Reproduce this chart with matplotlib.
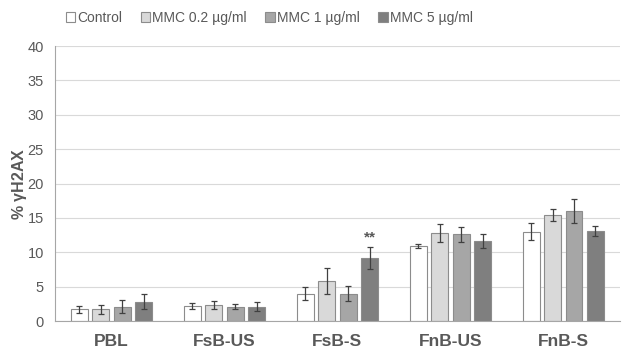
import numpy as np
from matplotlib import pyplot as plt

plt.rcParams['font.family'] = ['Liberation Sans', 'DejaVu Sans']

# data
groups = ["PBL", "FsB-US", "FsB-S", "FnB-US", "FnB-S"]
series = ["Control", "MMC 0.2 µg/ml", "MMC 1 µg/ml", "MMC 5 µg/ml"]
control = [1.7, 2.2, 4.0, 10.9, 13.0]
mmc02 = [1.7, 2.3, 5.8, 12.8, 15.4]
mmc1 = [2.1, 2.1, 4.0, 12.6, 16.0]
mmc5 = [2.8, 2.1, 9.2, 11.6, 13.1]
err_control = [0.5, 0.4, 0.9, 0.3, 1.2]
err_mmc02 = [0.6, 0.6, 1.9, 1.3, 0.9]
err_mmc1 = [0.9, 0.4, 1.1, 1.1, 1.7]
err_mmc5 = [1.1, 0.7, 1.6, 1.0, 0.7]

values = [control, mmc02, mmc1, mmc5]
errors = [err_control, err_mmc02, err_mmc1, err_mmc5]
colors = ["white", "#d9d9d9", "#a6a6a6", "#7f7f7f"]
txt = "#595959"

fig = plt.figure(figsize=(6.26, 3.49), dpi=100)
ax = fig.add_axes([0.088, 0.080, 0.902, 0.788])

x = np.arange(len(groups))
w = 0.15
step = 0.19
for i in range(4):
    xs = x + (i - 1.5) * step
    ax.bar(xs, values[i], w, color=colors[i], edgecolor="#8c8c8c", linewidth=0.8,
           label=series[i], zorder=2)
    ax.errorbar(xs, values[i], yerr=errors[i], fmt="none", ecolor="#404040",
                elinewidth=0.9, capsize=2.2, capthick=0.9, zorder=3)

# significance mark
ax.text(x[2] + 1.5 * step, mmc5[2] + err_mmc5[2] + 0.3, "**", ha="center",
        va="bottom", fontsize=11, fontweight="bold", color=txt)

ax.set_xlim(-0.5, len(groups) - 0.5)
ax.set_ylim(0, 40)
ax.set_yticks(range(0, 41, 5))
ax.yaxis.grid(True, color="#d9d9d9", linewidth=0.8, zorder=0)
ax.set_axisbelow(True)
ax.set_xticks(x)
ax.set_xticklabels(groups, fontsize=12.5, fontweight="bold", color=txt)
ax.tick_params(axis="x", length=0, pad=9)
ax.tick_params(axis="y", length=0, labelsize=10.5, labelcolor=txt, pad=8)
for s in ["top", "right"]:
    ax.spines[s].set_visible(False)
ax.spines["left"].set_color("#a6a6a6")
ax.spines["bottom"].set_color("#a6a6a6")
ax.set_ylabel("% $\\mathregular{\\gamma}$H2AX", fontsize=11.5, fontweight="bold",
              color=txt, labelpad=-1)

fig.legend(loc="upper center", bbox_to_anchor=(0.43, 1.005), ncol=4, frameon=False,
           fontsize=10, labelcolor=txt, handlelength=0.7, handleheight=0.7,
           handletextpad=0.15, columnspacing=1.3)

fig.savefig("out.png", dpi=100)
